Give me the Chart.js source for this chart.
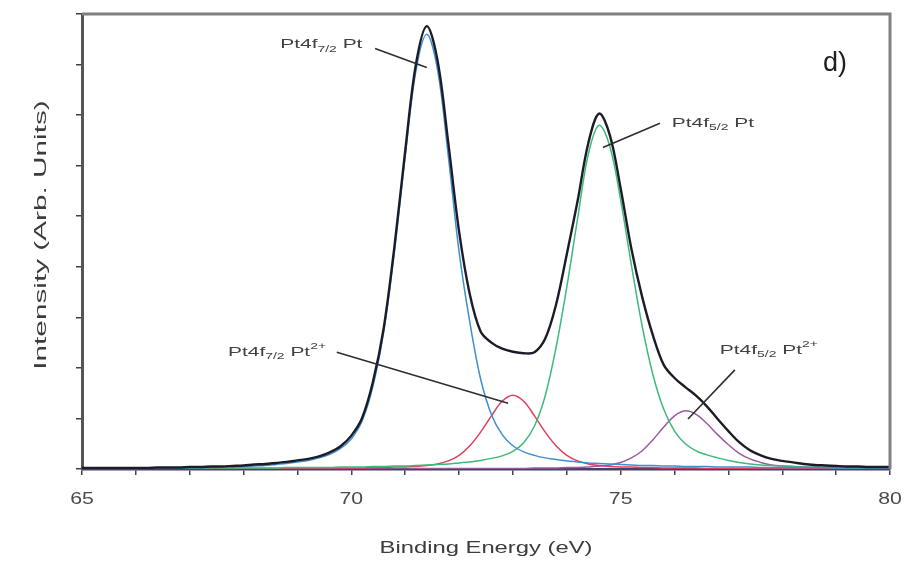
<!DOCTYPE html>
<html>
<head>
<meta charset="utf-8">
<script src="https://cdn.jsdelivr.net/npm/chart.js@4.4.1/dist/chart.umd.min.js"></script>
<style>
  html, body { margin: 0; padding: 0; background: #ffffff; }
  canvas { display: block; }
</style>
</head>
<body>
<canvas id="xps" width="909" height="565"></canvas>
<script>
// Binding energy grid (eV)
const energy = [
  65.0, 65.2, 65.4, 65.6, 65.8, 66.0, 66.2, 66.4, 66.6, 66.8,
  67.0, 67.2, 67.4, 67.6, 67.8, 68.0, 68.2, 68.4, 68.6, 68.8,
  69.0, 69.2, 69.4, 69.6, 69.8, 70.0, 70.2, 70.4, 70.6, 70.8,
  71.0, 71.2, 71.4, 71.6, 71.8, 72.0, 72.2, 72.4, 72.6, 72.8,
  73.0, 73.2, 73.4, 73.6, 73.8, 74.0, 74.2, 74.4, 74.6, 74.8,
  75.0, 75.2, 75.4, 75.6, 75.8, 76.0, 76.2, 76.4, 76.6, 76.8,
  77.0, 77.2, 77.4, 77.6, 77.8, 78.0, 78.2, 78.4, 78.6, 78.8,
  79.0, 79.2, 79.4, 79.6, 79.8, 80.0
];

// Measured envelope (black)
const envelope = [
  0.02, 0.02, 0.02, 0.02, 0.02, 0.02, 0.02, 0.03, 0.03, 0.03,
  0.04, 0.04, 0.05, 0.05, 0.06, 0.07, 0.09, 0.10, 0.12, 0.14,
  0.17, 0.20, 0.25, 0.33, 0.45, 0.66, 1.01, 1.72, 2.78, 4.40,
  6.29, 8.01, 8.76, 8.08, 6.45, 4.70, 3.45, 2.72, 2.50, 2.38,
  2.32, 2.29, 2.31, 2.58, 3.25, 4.25, 5.30, 6.45, 7.03, 6.60,
  5.55, 4.35, 3.40, 2.64, 2.06, 1.80, 1.62, 1.45, 1.24, 0.99,
  0.75, 0.53, 0.37, 0.27, 0.20, 0.16, 0.13, 0.10, 0.08, 0.07,
  0.06, 0.05, 0.05, 0.04, 0.04, 0.04
];

// Pt4f7/2 metallic Pt (blue)
const pt4f72Pt = [
  0.01, 0.01, 0.01, 0.01, 0.01, 0.02, 0.02, 0.02, 0.02, 0.02,
  0.03, 0.03, 0.03, 0.04, 0.04, 0.05, 0.06, 0.07, 0.09, 0.11,
  0.14, 0.17, 0.22, 0.29, 0.41, 0.60, 0.95, 1.63, 2.71, 4.30,
  6.19, 7.88, 8.60, 7.90, 6.19, 4.30, 2.90, 1.78, 1.08, 0.68,
  0.46, 0.34, 0.27, 0.22, 0.19, 0.16, 0.14, 0.12, 0.11, 0.10,
  0.09, 0.08, 0.07, 0.07, 0.06, 0.06, 0.05, 0.05, 0.05, 0.04,
  0.04, 0.04, 0.04, 0.03, 0.03, 0.03, 0.03, 0.03, 0.03, 0.03,
  0.02, 0.02, 0.02, 0.02, 0.02, 0.02
];

// Pt4f7/2 Pt2+ (red)
const pt4f72Pt2 = [
  0.00, 0.00, 0.00, 0.00, 0.00, 0.00, 0.00, 0.00, 0.00, 0.00,
  0.00, 0.00, 0.01, 0.01, 0.01, 0.01, 0.01, 0.01, 0.01, 0.01,
  0.01, 0.01, 0.01, 0.02, 0.02, 0.02, 0.02, 0.03, 0.03, 0.04,
  0.04, 0.05, 0.07, 0.10, 0.16, 0.27, 0.46, 0.73, 1.05, 1.34,
  1.46, 1.34, 1.05, 0.73, 0.46, 0.27, 0.16, 0.10, 0.07, 0.05,
  0.04, 0.04, 0.03, 0.03, 0.02, 0.02, 0.02, 0.02, 0.01, 0.01,
  0.01, 0.01, 0.01, 0.01, 0.01, 0.01, 0.01, 0.01, 0.01, 0.00,
  0.00, 0.00, 0.00, 0.00, 0.00, 0.00
];

// Pt4f5/2 metallic Pt (green)
const pt4f52Pt = [
  0.01, 0.01, 0.01, 0.01, 0.01, 0.01, 0.01, 0.01, 0.01, 0.01,
  0.01, 0.02, 0.02, 0.02, 0.02, 0.02, 0.02, 0.02, 0.02, 0.03,
  0.03, 0.03, 0.03, 0.03, 0.04, 0.04, 0.04, 0.05, 0.05, 0.06,
  0.06, 0.07, 0.08, 0.09, 0.10, 0.12, 0.14, 0.17, 0.21, 0.26,
  0.35, 0.52, 0.85, 1.45, 2.40, 3.60, 4.95, 6.23, 6.80, 6.38,
  5.32, 4.03, 2.82, 1.86, 1.18, 0.75, 0.50, 0.36, 0.28, 0.22,
  0.17, 0.13, 0.10, 0.08, 0.07, 0.06, 0.05, 0.04, 0.04, 0.03,
  0.03, 0.02, 0.02, 0.02, 0.02, 0.02
];

// Pt4f5/2 Pt2+ (purple)
const pt4f52Pt2 = [
  0.00, 0.00, 0.00, 0.00, 0.00, 0.00, 0.00, 0.00, 0.00, 0.00,
  0.00, 0.00, 0.00, 0.00, 0.00, 0.00, 0.00, 0.00, 0.00, 0.00,
  0.00, 0.00, 0.00, 0.00, 0.00, 0.00, 0.00, 0.00, 0.00, 0.00,
  0.00, 0.01, 0.01, 0.01, 0.01, 0.01, 0.01, 0.01, 0.01, 0.01,
  0.01, 0.01, 0.02, 0.02, 0.02, 0.03, 0.03, 0.04, 0.06, 0.08,
  0.13, 0.22, 0.36, 0.58, 0.83, 1.05, 1.15, 1.08, 0.90, 0.68,
  0.48, 0.31, 0.20, 0.13, 0.08, 0.06, 0.05, 0.04, 0.03, 0.03,
  0.02, 0.02, 0.02, 0.02, 0.01, 0.01
];

const xTickLabels = [65, 70, 75, 80];
const xTitle = 'Binding Energy (eV)';
const yTitle = 'Intensity (Arb. Units)';
const panelTag = 'd)';

// Peak labels: rich-text pieces (0 normal, 1 subscript, 2 superscript), anchored in data units
const peakNotes = [
  { pieces: [['Pt4f', 0], ['7/2', 1], [' Pt', 0]],            at: [68.68, 8.40], from: [70.44, 8.32], to: [71.40, 7.94] },
  { pieces: [['Pt4f', 0], ['5/2', 1], [' Pt', 0]],            at: [75.95, 6.84], from: [75.73, 6.84], to: [74.67, 6.36] },
  { pieces: [['Pt4f', 0], ['7/2', 1], [' Pt', 0], ['2+', 2]], at: [67.71, 2.31], from: [69.73, 2.31], to: [72.91, 1.30] },
  { pieces: [['Pt4f', 0], ['5/2', 1], [' Pt', 0], ['2+', 2]], at: [76.84, 2.35], from: [77.12, 1.96], to: [76.25, 0.99] }
];
const tagAt = [78.98, 8.02];

const FONT = '"Liberation Sans", Arial, sans-serif';

const toPoints = arr => energy.map((e, i) => ({ x: e, y: arr[i] }));

// text widened horizontally by sx
function stretchedText(ctx, text, x, y, size, sx, align, color) {
  ctx.save();
  ctx.font = size + 'px ' + FONT;
  ctx.fillStyle = color;
  ctx.textBaseline = 'middle';
  const w = ctx.measureText(text).width * sx;
  const left = align === 'center' ? x - w / 2 : x;
  ctx.translate(left, y);
  ctx.scale(sx, 1);
  ctx.textAlign = 'left';
  ctx.fillText(text, 0, 0);
  ctx.restore();
}

function richText(ctx, pieces, x, y, size, sx, color) {
  ctx.save();
  ctx.translate(x, y);
  ctx.scale(sx, 1);
  ctx.fillStyle = color;
  ctx.textBaseline = 'middle';
  ctx.textAlign = 'left';
  let cx = 0;
  for (const [txt, kind] of pieces) {
    const s = kind === 0 ? size : Math.round(size * 0.7);
    const dy = kind === 1 ? size * 0.35 : (kind === 2 ? -size * 0.4 : 0);
    ctx.font = s + 'px ' + FONT;
    ctx.fillText(txt, cx, dy);
    cx += ctx.measureText(txt).width;
  }
  ctx.restore();
}

const decorations = {
  id: 'decorations',
  afterDatasetsDraw(chart) {
    const { ctx, chartArea: a, scales: { x, y } } = chart;
    // top and right frame
    ctx.save();
    ctx.strokeStyle = '#808080';
    ctx.lineWidth = 3;
    ctx.beginPath();
    ctx.moveTo(a.left, a.top);
    ctx.lineTo(a.right, a.top);
    ctx.lineTo(a.right, a.bottom);
    ctx.stroke();
    ctx.restore();

    // tick labels
    xTickLabels.forEach(v => {
      stretchedText(ctx, String(v), x.getPixelForValue(v), a.bottom + 30, 17, 1.25, 'center', '#4a4a4a');
    });
    // axis titles
    stretchedText(ctx, xTitle, (a.left + a.right) / 2, 548, 17, 1.4, 'center', '#3c3c3c');
    ctx.save();
    ctx.translate(41, 235);
    ctx.rotate(-Math.PI / 2);
    stretchedText(ctx, yTitle, 0, 0, 17, 1.75, 'center', '#3c3c3c');
    ctx.restore();

    // peak labels and leader lines
    ctx.save();
    ctx.strokeStyle = '#2e2e2e';
    ctx.lineWidth = 1.6;
    peakNotes.forEach(n => {
      ctx.beginPath();
      ctx.moveTo(x.getPixelForValue(n.from[0]), y.getPixelForValue(n.from[1]));
      ctx.lineTo(x.getPixelForValue(n.to[0]), y.getPixelForValue(n.to[1]));
      ctx.stroke();
      richText(ctx, n.pieces, x.getPixelForValue(n.at[0]), y.getPixelForValue(n.at[1]), 13.5, 1.55, '#404040');
    });
    ctx.restore();

    stretchedText(ctx, panelTag, x.getPixelForValue(tagAt[0]), y.getPixelForValue(tagAt[1]), 27, 1.0, 'center', '#202020');
  }
};

const line = (data, color, width, order) => ({
  data: toPoints(data),
  borderColor: color,
  borderWidth: width,
  pointRadius: 0,
  fill: false,
  tension: 0.35,
  order
});

new Chart(document.getElementById('xps'), {
  type: 'line',
  data: {
    datasets: [
      line(envelope, '#1c1c28', 2.4, 0),
      line(pt4f72Pt, '#3f8fcf', 1.5, 1),
      line(pt4f52Pt, '#3dba7a', 1.5, 2),
      line(pt4f72Pt2, '#e0405c', 1.5, 3),
      line(pt4f52Pt2, '#9a5c9e', 1.5, 4)
    ]
  },
  options: {
    responsive: false,
    animation: false,
    layout: { padding: { top: 14, right: 19, left: 0, bottom: 0 } },
    plugins: { legend: { display: false }, tooltip: { enabled: false } },
    scales: {
      x: {
        type: 'linear',
        min: 65,
        max: 80,
        ticks: { stepSize: 1, callback: () => '' },
        grid: { drawOnChartArea: false, drawTicks: true, tickLength: 6, color: '#404050', lineWidth: 1.5 },
        border: { display: true, color: '#4a3f6a', width: 2.5 },
        afterFit: s => { s.height = 96; }
      },
      y: {
        type: 'linear',
        min: 0,
        max: 9,
        ticks: { stepSize: 1, callback: () => '' },
        grid: { drawOnChartArea: false, drawTicks: true, tickLength: 6, color: '#404040', lineWidth: 1.5 },
        border: { display: true, color: '#555555', width: 3 },
        afterFit: s => { s.width = 82; }
      }
    }
  },
  plugins: [decorations]
});
</script>
</body>
</html>
